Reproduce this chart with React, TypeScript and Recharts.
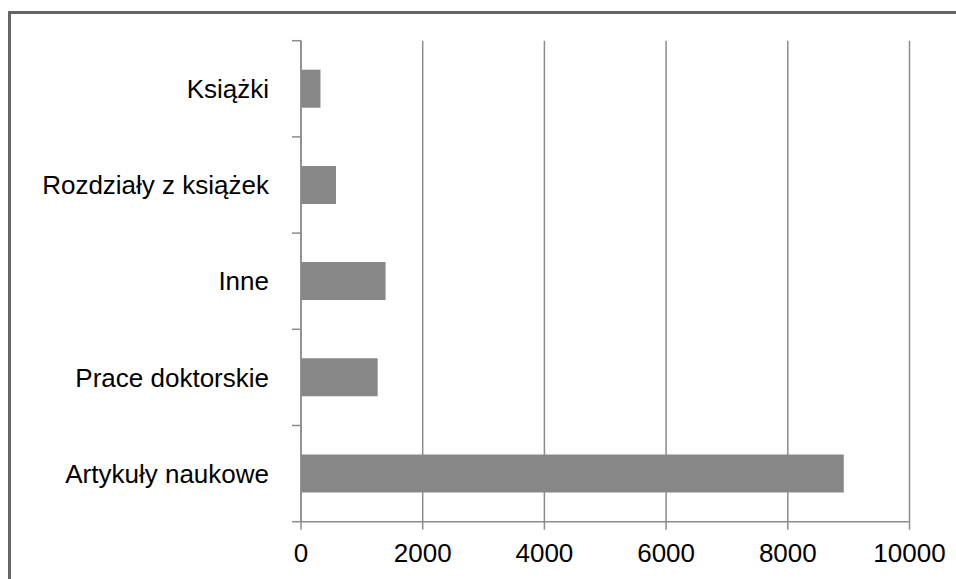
import React from "react";
import { BarChart, Bar, XAxis, YAxis, CartesianGrid } from "recharts";

const categories = ["Książki", "Rozdziały z książek", "Inne", "Prace doktorskie", "Artykuły naukowe"];
const counts = [320, 575, 1390, 1260, 8920];
const xTicks = [0, 2000, 4000, 6000, 8000, 10000];

const data = categories.map((name, i) => ({ name, value: counts[i] }));

const W = 942;
const H = 560;
const M_TOP = 26.7;
const X_AXIS_H = 52.3;
const BAND = (H - M_TOP - X_AXIS_H) / categories.length;
const AXIS_COLOR = "#8c8c8c";
const FONT = "'Liberation Sans', Arial, sans-serif";

function CategoryTick(props: any) {
  const { x, y, payload, index } = props;
  const last = index === categories.length - 1;
  return (
    <g>
      <text
        x={x - 32}
        y={y}
        dy="0.35em"
        textAnchor="end"
        fontSize={26}
        fontFamily={FONT}
        fill="#000"
      >
        {payload.value}
      </text>
      <line x1={x - 9} x2={x} y1={y - BAND / 2} y2={y - BAND / 2} stroke={AXIS_COLOR} strokeWidth={1.5} />
      {last && (
        <line x1={x - 9} x2={x} y1={y + BAND / 2} y2={y + BAND / 2} stroke={AXIS_COLOR} strokeWidth={1.5} />
      )}
    </g>
  );
}

export default function App() {
  return (
    <div
      style={{
        position: "fixed",
        left: 8,
        top: 11,
        right: 0,
        bottom: 0,
        borderTop: "3px solid #666",
        borderLeft: "3px solid #666",
        overflow: "hidden",
        background: "#fff",
      }}
    >
      <BarChart
        width={W}
        height={H}
        data={data}
        layout="vertical"
        margin={{ top: M_TOP, right: 43.5, left: 0, bottom: 0 }}
        barSize={38}
      >
        <CartesianGrid horizontal={false} stroke={AXIS_COLOR} strokeWidth={1.5} />
        <XAxis
          type="number"
          domain={[0, 10000]}
          ticks={xTicks}
          interval={0}
          height={X_AXIS_H}
          tickSize={8}
          tickMargin={14}
          stroke={AXIS_COLOR}
          strokeWidth={1.5}
          tick={{ fill: "#000", fontSize: 26, fontFamily: FONT }}
        />
        <YAxis
          type="category"
          dataKey="name"
          width={290}
          tickSize={0}
          tickMargin={0}
          tickLine={false}
          stroke={AXIS_COLOR}
          strokeWidth={1.5}
          interval={0}
          tick={<CategoryTick />}
        />
        <Bar dataKey="value" fill="#878787" isAnimationActive={false} />
      </BarChart>
    </div>
  );
}
